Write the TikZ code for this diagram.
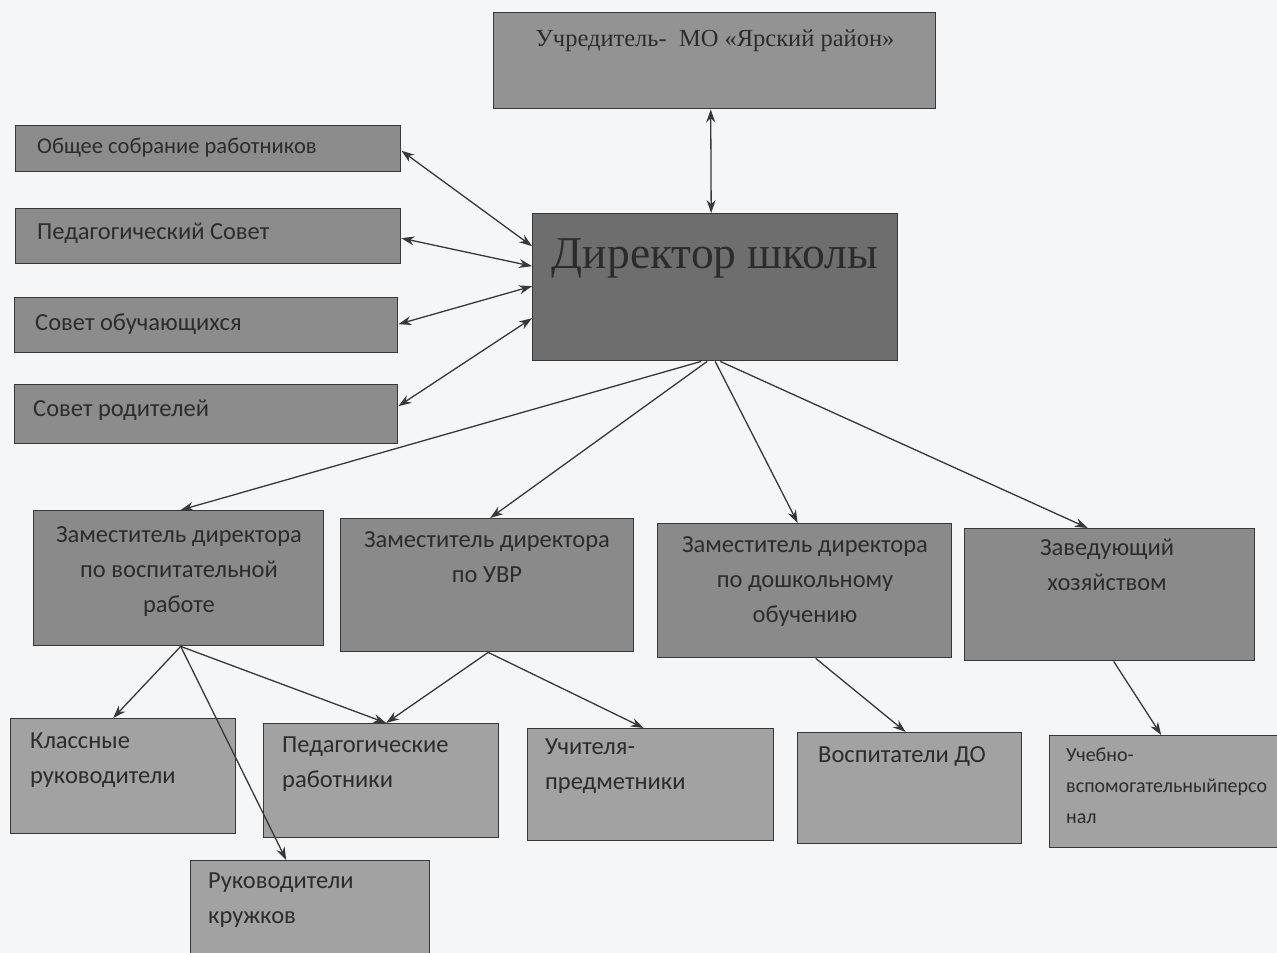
\documentclass[tikz,border=0pt]{standalone}
\usepackage{fontspec}
\setmainfont{Carlito}
\newfontfamily\serifru{Liberation Serif}
\usetikzlibrary{arrows.meta}
\definecolor{bgc}{HTML}{F5F6F8}
\definecolor{gside}{HTML}{8C8C8C}
\definecolor{gtop}{HTML}{939393}
\definecolor{gdir}{HTML}{6E6E6E}
\definecolor{gmid}{HTML}{8A8A8A}
\definecolor{glow}{HTML}{A2A2A2}
\definecolor{linec}{HTML}{383838}
\definecolor{txtc}{HTML}{2C2C2C}
\begin{document}
\begin{tikzpicture}[x=1pt,y=-1pt,
  box/.style={draw=linec, line width=1.4pt, fill=#1, inner sep=0pt, anchor=north west},
  lbl/.style={text=txtc, inner sep=0pt, font=\fontsize{24.5}{35}\selectfont},
  arr/.style={-{Stealth[length=13pt,width=9pt]}, line width=1.3pt, draw=linec},
  darr/.style={{Stealth[length=13pt,width=9pt]}-{Stealth[length=13pt,width=9pt]}, line width=1.3pt, draw=linec}]
\clip (0,0) rectangle (1277,953);
\fill[bgc] (0,0) rectangle (1277,953);

% top
\node[box=gtop, minimum width=442pt, minimum height=96pt] (uchr) at (493,12) {};
\node[lbl, font=\serifru\fontsize{24.5}{28}\selectfont] (tuchr) at (715,41) {Учредитель-~ МО «Ярский район»};
\node[box=gdir, minimum width=365pt, minimum height=147pt] (dir) at (532,213) {};
\node[lbl, font=\serifru\fontsize{45.5}{50}\selectfont] (tdir) at (715,258) {Директор школы};

% left column
\node[box=gside, minimum width=385pt, minimum height=46pt] (ob) at (15,125) {};
\node[lbl, anchor=west, font=\fontsize{22.5}{26}\selectfont] (tob) at (37,148) {Общее собрание работников};
\node[box=gside, minimum width=385pt, minimum height=55pt] (ps) at (15,208) {};
\node[lbl, anchor=west] (tps) at (37,233) {Педагогический Совет};
\node[box=gside, minimum width=383pt, minimum height=55pt] (so) at (14,297) {};
\node[lbl, anchor=west] (tso) at (35,324) {Совет обучающихся};
\node[box=gside, minimum width=383pt, minimum height=59pt] (sr) at (14,384) {};
\node[lbl, anchor=west] (tsr) at (33,410) {Совет родителей};

% deputies
\node[box=gmid, minimum width=290pt, minimum height=135pt] (zvr) at (33,510) {};
\node[lbl, anchor=north, align=center] (tzvr) at (179,526) {Заместитель директора\\по воспитательной\\работе};
\node[box=gmid, minimum width=293pt, minimum height=133pt] (zuvr) at (340,518) {};
\node[lbl, anchor=north, align=center] (tzuvr) at (487,531) {Заместитель директора\\по УВР};
\node[box=gmid, minimum width=294pt, minimum height=134pt] (zdo) at (657,523) {};
\node[lbl, anchor=north, align=center] (tzdo) at (805,536) {Заместитель директора\\по дошкольному\\обучению};
\node[box=gmid, minimum width=290pt, minimum height=132pt] (zav) at (964,528) {};
\node[lbl, anchor=north, align=center] (tzav) at (1107,539) {Заведующий\\хозяйством};

% bottom
\node[box=glow, minimum width=225pt, minimum height=115pt] (kl) at (10,718) {};
\node[lbl, anchor=north west, align=left] (tkl) at (30,733) {Классные\\руководители};
\node[box=glow, minimum width=235pt, minimum height=114pt] (pr) at (263,723) {};
\node[lbl, anchor=north west, align=left] (tpr) at (282,737) {Педагогические\\работники};
\node[box=glow, minimum width=246pt, minimum height=112pt] (up) at (527,728) {};
\node[lbl, anchor=north west, align=left] (tup) at (545,739) {Учителя-\\предметники};
\node[box=glow, minimum width=224pt, minimum height=111pt] (vdo) at (797,732) {};
\node[lbl, anchor=north west, align=left] (tvdo) at (818,746) {Воспитатели ДО};
\node[box=glow, minimum width=245pt, minimum height=112pt] (uvp) at (1049,735) {};
\node[lbl, anchor=north west, align=left, font=\fontsize{20}{31}\selectfont] (tuvp) at (1066,748) {Учебно-\\вспомогательныйперсо\\нал};
\node[box=glow, minimum width=239pt, minimum height=110pt] (rk) at (190,860) {};
\node[lbl, anchor=north west, align=left] (trk) at (208,873) {Руководители\\кружков};

% connectors
\draw[darr] ([xshift=-4pt]uchr.south) -- ([xshift=-4pt]dir.north);
\draw[darr] ([yshift=-2pt]ob.east) -- ([yshift=41pt]dir.west);
\draw[darr] ([yshift=-2pt]ps.east) -- ([yshift=21pt]dir.west);
\draw[darr] ([yshift=1pt]so.east) -- ([yshift=1pt]dir.west);
\draw[darr] ([yshift=8pt]sr.east) -- ([yshift=-31pt]dir.west);

\draw[arr] ([xshift=-14pt]dir.south) -- ([xshift=2pt]zvr.north);
\draw[arr] ([xshift=-8pt]dir.south) -- ([xshift=3pt]zuvr.north);
\draw[arr] ([xshift=0pt]dir.south) -- ([xshift=-7pt]zdo.north);
\draw[arr] ([xshift=5pt]dir.south) -- ([xshift=-22pt]zav.north);

\draw[arr] ([xshift=2pt]zvr.south) -- ([xshift=-10pt]kl.north);
\draw[arr] ([xshift=2pt]zvr.south) -- ([xshift=-24pt]rk.north);
\draw[arr] ([xshift=2pt]zvr.south) -- ([xshift=5pt]pr.north);
\draw[arr] ([xshift=1pt]zuvr.south) -- ([xshift=5pt]pr.north);
\draw[arr] ([xshift=1pt]zuvr.south) -- ([xshift=-7pt]up.north);
\draw[arr] ([xshift=11pt]zdo.south) -- ([xshift=-4pt]vdo.north);
\draw[arr] ([xshift=4pt]zav.south) -- ([xshift=-11pt]uvp.north);
\end{tikzpicture}
\end{document}
